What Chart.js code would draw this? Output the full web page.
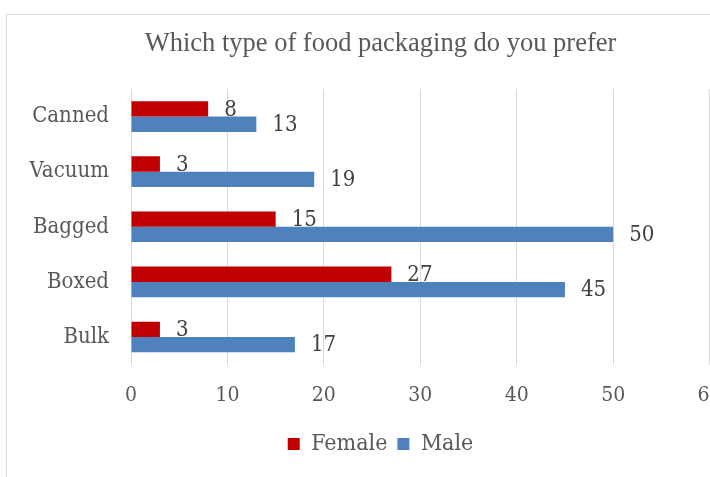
<!DOCTYPE html>
<html lang="en">
<head>
<meta charset="UTF-8">
<title>Which type of food packaging do you prefer</title>
<script src="https://cdn.jsdelivr.net/npm/chart.js"></script>
<style>
html, body { margin: 0; padding: 0; background: #fff; overflow: hidden; width: 710px; height: 477px; }
.frame { position: absolute; left: 6px; top: 14px; width: 760px; height: 480px; border-left: 1px solid #d9d9d9; border-top: 1px solid #d9d9d9; }
.box { position: absolute; left: 7px; top: 15px; width: 747px; height: 470px; }
</style>
</head>
<body>
<div class="frame"></div>
<div class="box"><canvas id="packChart"></canvas></div>
<script>
const categories = ['Canned', 'Vacuum', 'Bagged', 'Boxed', 'Bulk'];
const femaleValues = [8, 3, 15, 27, 3];
const maleValues = [13, 19, 50, 45, 17];
const xTicks = [0, 10, 20, 30, 40, 50, 60];

const labelFont = 'DejaVu Serif Condensed, DejaVu Serif, serif';

// value labels to the right of each bar
const valueLabels = {
    id: 'valueLabels',
    afterDatasetsDraw(chart) {
        const ctx = chart.ctx;
        ctx.save();
        ctx.font = '22px ' + labelFont;
        ctx.fillStyle = '#404040';
        ctx.textAlign = 'left';
        ctx.textBaseline = 'middle';
        chart.data.datasets.forEach((ds, i) => {
            chart.getDatasetMeta(i).data.forEach((bar, j) => {
                ctx.fillText(ds.data[j], bar.x + 16, bar.y + 1);
            });
        });
        ctx.restore();
    }
};

new Chart(document.getElementById('packChart'), {
    type: 'bar',
    data: {
        labels: categories,
        datasets: [
            { label: 'Female', data: femaleValues, backgroundColor: '#C00000' },
            { label: 'Male', data: maleValues, backgroundColor: '#4F81BD' }
        ]
    },
    options: {
        indexAxis: 'y',
        responsive: true,
        maintainAspectRatio: false,
        animation: false,
        categoryPercentage: 0.556,
        barPercentage: 1,
        layout: { padding: { left: 0, right: 0, top: 0, bottom: 19.4 } },
        scales: {
            x: {
                min: 0,
                max: 60,
                afterBuildTicks: s => { s.ticks = xTicks.map(v => ({ value: v })); },
                afterFit: s => { s.height = 58; },
                grid: { color: '#d9d9d9', drawTicks: false },
                border: { display: false },
                ticks: { color: '#595959', padding: 18, font: { family: labelFont, size: 21 } }
            },
            y: {
                afterFit: s => { s.width = 124; },
                grid: { display: false, drawTicks: false },
                border: { display: false },
                ticks: { color: '#595959', padding: 22, font: { family: labelFont, size: 22 } }
            },
            // empty strip on the right so the plot ends where the reference does
            yRight: {
                type: 'category',
                labels: categories,
                position: 'right',
                afterFit: s => { s.width = 44.4; },
                grid: { display: false, drawTicks: false },
                border: { display: false },
                ticks: { display: false }
            }
        },
        plugins: {
            title: {
                display: true,
                text: 'Which type of food packaging do you prefer',
                color: '#595959',
                font: { family: 'Liberation Serif, serif', size: 26.5, weight: 'normal' },
                padding: { top: 13, bottom: 29.2 }
            },
            legend: {
                position: 'bottom',
                labels: {
                    color: '#595959',
                    boxWidth: 12,
                    boxHeight: 12,
                    padding: 10,
                    font: { family: labelFont, size: 23 }
                }
            },
            tooltip: { enabled: false }
        }
    },
    plugins: [valueLabels]
});
</script>
</body>
</html>
